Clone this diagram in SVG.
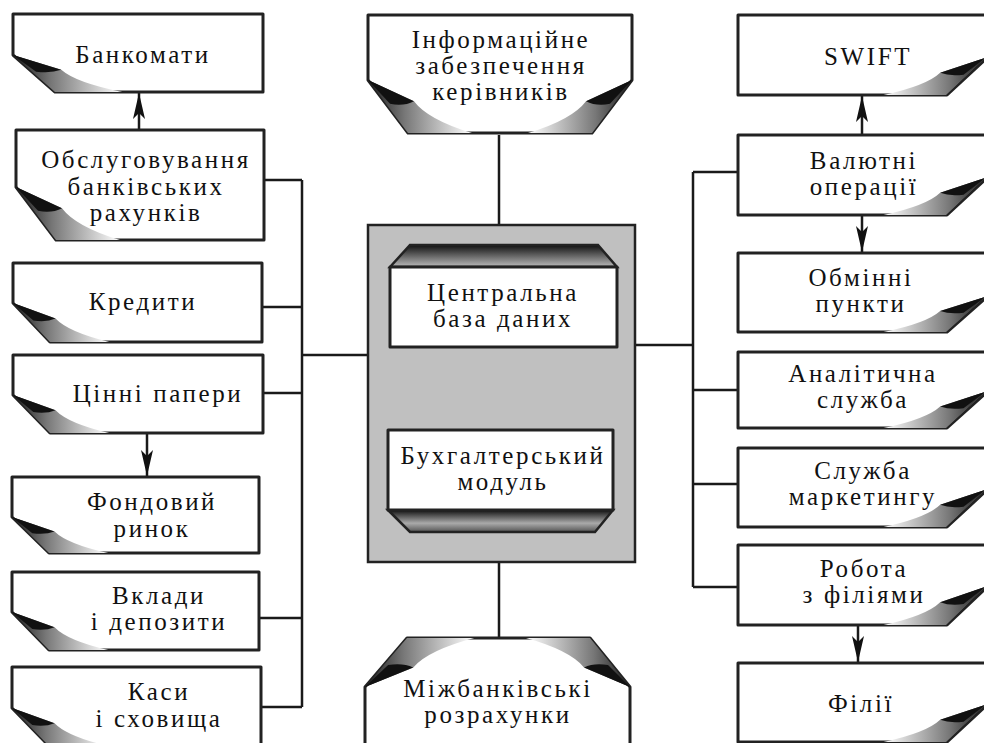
<svg xmlns="http://www.w3.org/2000/svg" xmlns:xlink="http://www.w3.org/1999/xlink" width="984" height="743" viewBox="0 0 984 743">
<style>
.box{fill:#fff;stroke:#222;stroke-width:3;stroke-linejoin:round}
.con{fill:none;stroke:#1a1a1a;stroke-width:2.5}
.arr{fill:none;stroke:#1a1a1a;stroke-width:2.5;marker-end:url(#ah)}
.t{font-size:25px;letter-spacing:2.6px;text-anchor:middle;fill:#111}
</style>
<defs>
<linearGradient id="fold" x1="0" y1="0" x2="1" y2="0">
<stop offset="0" stop-color="#1a1a1a"/>
<stop offset="0.35" stop-color="#777"/>
<stop offset="1" stop-color="#fff"/>
</linearGradient>
<linearGradient id="bevT" x1="0" y1="0" x2="0" y2="1">
<stop offset="0" stop-color="#111"/>
<stop offset="1" stop-color="#bbb"/>
</linearGradient>
<linearGradient id="bevB" x1="0" y1="0" x2="0" y2="1">
<stop offset="0" stop-color="#111"/>
<stop offset="0.6" stop-color="#aaa"/>
<stop offset="1" stop-color="#555"/>
</linearGradient>
<g id="curl">
<path d="M0,-1 L1.15,-0.6 Q1.5,-0.25 2.6,0 L1,0 Z" fill="url(#fold)"/>
<path d="M0,-1 L1.15,-0.6 Q0.9,-0.5 0.55,-0.55 Z" fill="#111"/>
</g>
<marker id="ah" viewBox="0 0 26 12" refX="26" refY="6" markerWidth="26" markerHeight="12" markerUnits="userSpaceOnUse" orient="auto-start-reverse">
<path d="M0,0 L26,6 L0,12 L6,6 Z" fill="#111"/>
</marker>
</defs>

<g id="connectors">
<path class="con" d="M302,180 V707 M263,180 H302 M262,307 H302 M263,393 H302 M259,618 H302 M261,707 H302 M302,355 H368"/>
<path class="con" d="M499,135 V225 M499,562 V638"/>
<path class="con" d="M693,172 V587 M693,172 H738 M693,390 H738 M693,484 H738 M693,587 H738 M635,345 H693"/>
<path class="arr" d="M139,130 V93"/>
<path class="arr" d="M147,433 V476"/>
<path class="arr" d="M862,135 V96"/>
<path class="arr" d="M862,215 V252"/>
<path class="arr" d="M858,625 V662"/>
<path class="arr" style="marker-start:url(#ah)" d="M497,348 V429"/>
</g>

<g font-family="Liberation Serif, Times New Roman, serif">
<g id="n-bankomaty">
<path class="box" d="M13,14 H263 V92 H55 L13,55 Z"/>
<use xlink:href="#curl" transform="translate(13,92) scale(42,37)"/>
<text class="t" x="143" y="63">Банкомати</text>
</g>
<g id="n-obsluh">
<path class="box" d="M16,130 H264 V240 H56 L16,187 Z"/>
<use xlink:href="#curl" transform="translate(16,240) scale(40,53)"/>
<text class="t" x="146" y="168">Обслуговування</text>
<text class="t" x="146" y="195">банківських</text>
<text class="t" x="146" y="221">рахунків</text>
</g>
<g id="n-kredyty">
<path class="box" d="M13,263 H262 V342 H50 L13,303 Z"/>
<use xlink:href="#curl" transform="translate(13,342) scale(37,39)"/>
<text class="t" x="143" y="310">Кредити</text>
</g>
<g id="n-tsinni">
<path class="box" d="M13,355 H263 V433 H50 L13,395 Z"/>
<use xlink:href="#curl" transform="translate(13,433) scale(37,38)"/>
<text class="t" x="158" y="402">Цінні папери</text>
</g>
<g id="n-fondovyi">
<path class="box" d="M12,477 H259 V553 H49 L12,517 Z"/>
<use xlink:href="#curl" transform="translate(12,553) scale(37,36)"/>
<text class="t" x="152" y="510">Фондовий</text>
<text class="t" x="152" y="537">ринок</text>
</g>
<g id="n-vklady">
<path class="box" d="M12,572 H259 V650 H49 L12,612 Z"/>
<use xlink:href="#curl" transform="translate(12,650) scale(37,38)"/>
<text class="t" x="159" y="604">Вклади</text>
<text class="t" x="159" y="630">і депозити</text>
</g>
<g id="n-kasy">
<path class="box" d="M12,667 H261 V746 H49 L12,708 Z"/>
<use xlink:href="#curl" transform="translate(12,746) scale(37,38)"/>
<text class="t" x="159" y="700">Каси</text>
<text class="t" x="159" y="727">і сховища</text>
</g>

<g id="n-info">
<path class="box" d="M368,15 H632 V80 L592,133 H408 L368,80 Z"/>
<use xlink:href="#curl" transform="translate(368,133) scale(40,53)"/>
<use xlink:href="#curl" transform="translate(632,133) scale(-40,53)"/>
<text class="t" x="501" y="48">Інформаційне</text>
<text class="t" x="501" y="74">забезпечення</text>
<text class="t" x="501" y="100">керівників</text>
</g>

<g id="n-central">
<rect x="368" y="225" width="267" height="337" fill="#c0c0c0" stroke="#222" stroke-width="2.5"/>
</g>
<g id="n-cbd">
<path d="M390,267 L410,245 H598 L617,267 Z" fill="url(#bevT)" stroke="#222" stroke-width="2.5"/>
<rect class="box" x="390" y="267" width="227" height="80"/>
<text class="t" x="503" y="301">Центральна</text>
<text class="t" x="503" y="327">база даних</text>
</g>
<g id="n-buh">
<path d="M388,510 L410,532 H595 L613,510 Z" fill="url(#bevB)" stroke="#222" stroke-width="2.5"/>
<rect class="box" x="388" y="430" width="225" height="80"/>
<text class="t" x="503" y="464">Бухгалтерський</text>
<text class="t" x="503" y="490">модуль</text>
</g>

<g id="n-mizhbank">
<path class="box" d="M365,748 V687 L407,638 H590 L630,687 V748 Z"/>
<use xlink:href="#curl" transform="translate(365,638) scale(42,-49)"/>
<use xlink:href="#curl" transform="translate(630,638) scale(-40,-49)"/>
<text class="t" x="498" y="697">Міжбанківські</text>
<text class="t" x="498" y="723">розрахунки</text>
</g>

<g id="n-swift">
<path class="box" d="M738,15 H987 V58 L947,95 H738 Z"/>
<use xlink:href="#curl" transform="translate(985,95) scale(-39,37)"/>
<text class="t" x="868" y="65">SWIFT</text>
</g>
<g id="n-valiutni">
<path class="box" d="M738,135 H987 V178 L947,215 H738 Z"/>
<use xlink:href="#curl" transform="translate(985,215) scale(-39,37)"/>
<text class="t" x="864" y="169">Валютні</text>
<text class="t" x="864" y="195">операції</text>
</g>
<g id="n-obminni">
<path class="box" d="M738,253 H987 V297 L947,332 H738 Z"/>
<use xlink:href="#curl" transform="translate(985,332) scale(-39,35)"/>
<text class="t" x="861" y="286">Обмінні</text>
<text class="t" x="861" y="312">пункти</text>
</g>
<g id="n-analit">
<path class="box" d="M738,352 H987 V392 L947,428 H738 Z"/>
<use xlink:href="#curl" transform="translate(985,428) scale(-39,36)"/>
<text class="t" x="863" y="382">Аналітична</text>
<text class="t" x="863" y="408">служба</text>
</g>
<g id="n-marketing">
<path class="box" d="M738,448 H987 V490 L947,527 H738 Z"/>
<use xlink:href="#curl" transform="translate(985,527) scale(-39,37)"/>
<text class="t" x="863" y="479">Служба</text>
<text class="t" x="863" y="505">маркетингу</text>
</g>
<g id="n-robota">
<path class="box" d="M738,545 H987 V587 L947,625 H738 Z"/>
<use xlink:href="#curl" transform="translate(985,625) scale(-39,38)"/>
<text class="t" x="864" y="577">Робота</text>
<text class="t" x="864" y="603">з філіями</text>
</g>
<g id="n-filii">
<path class="box" d="M738,663 H987 V705 L947,742 H738 Z"/>
<use xlink:href="#curl" transform="translate(985,742) scale(-39,37)"/>
<text class="t" x="861" y="712">Філії</text>
</g>
</g>
</svg>
